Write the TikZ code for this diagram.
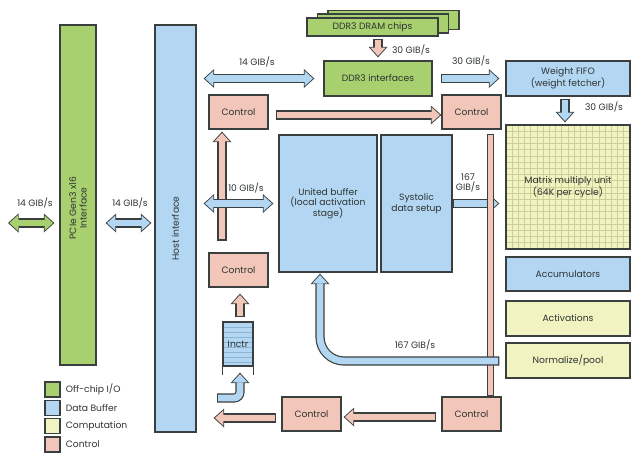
\documentclass[tikz,border=0pt]{standalone}
\usepackage{fontspec}
\setmainfont{Poppins}
\usetikzlibrary{arrows.meta,positioning,calc}
\definecolor{ioFill}{HTML}{A8D06E}
\definecolor{bufFill}{HTML}{B3D7F2}
\definecolor{compFill}{HTML}{F1F3C0}
\definecolor{ctrlFill}{HTML}{F2C7B9}
\definecolor{edgeDraw}{HTML}{3A3F3F}
\definecolor{gridDraw}{HTML}{CDCE98}
\definecolor{stripeDraw}{HTML}{8DB3D3}
\definecolor{txt}{HTML}{2E3333}
\tikzset{
  font=\fontsize{9.2}{10.6}\selectfont,
  box/.style  ={draw=edgeDraw, line width=1.3pt, align=center, inner sep=0pt, text=txt},
  io/.style   ={box, fill=ioFill},
  buf/.style  ={box, fill=bufFill},
  comp/.style ={box, fill=compFill},
  ctrl/.style ={box, fill=ctrlFill, minimum width=59pt, minimum height=34pt},
  unit/.style ={minimum width=124pt, minimum height=35pt},
  rate/.style ={align=center, text=txt, inner sep=0pt},
  legtxt/.style={text=txt, inner sep=0pt, anchor=west},
  outerTip/.tip={Triangle[width=19pt,length=10.5pt,line width=0pt]},
  innerTip/.tip={Triangle[width=15.4pt,length=8.4pt,line width=0pt]},
  fat/.style  ={line width=6.8pt, draw=#1, shorten >=1.4pt, shorten <=1.2pt, -innerTip,
                preaction={draw=edgeDraw, line width=9.2pt, shorten >=0pt, shorten <=0pt, -outerTip}},
  fatboth/.style={line width=6.8pt, draw=#1, shorten >=1.4pt, shorten <=1.4pt, innerTip-innerTip,
                preaction={draw=edgeDraw, line width=9.2pt, shorten >=0pt, shorten <=0pt, outerTip-outerTip}},
  fatbar/.style={line width=4.8pt, draw=#1, shorten >=1.2pt, shorten <=1.2pt,
                preaction={draw=edgeDraw, line width=7.2pt, shorten >=0pt, shorten <=0pt}},
}

\begin{document}
\begin{tikzpicture}[x=1pt, y=-1pt]
  \useasboundingbox (0,0) rectangle (640,458);

  % off-chip side
  \node[io,  minimum width=36pt, minimum height=340pt] (pcie) at (78,195) {};
  \node[rate, rotate=90] (pcieTxt) at (78,208) {PCIe Gen3 x16\\Interface};
  \node[buf, minimum width=41pt, minimum height=407pt,
        label={[rate, rotate=90]center:Host interface}] (host) at (175.5,228.5) {};

  % memory path
  \node[io, minimum width=131pt, minimum height=19pt] (chipC) at (393.5,20) {};
  \node[io, minimum width=131pt, minimum height=19pt] (chipB) at (383,23.5) {};
  \node[io, minimum width=131pt, minimum height=18pt] (chipA) at (372.5,27) {DDR3 DRAM chips};
  \node[io, minimum width=108pt, minimum height=35pt] (ddrIf) at (378,78.5) {DDR3 interfaces};
  \node[buf, unit] (fifo) at (568,78.5) {Weight FIFO\\(weight fetcher)};

  % control blocks
  \node[ctrl] (ctrlTop) at (238.5,112) {Control};
  \node[ctrl] (ctrlRt)  at (471.5,112) {Control};
  \node[ctrl] (ctrlMid) at (238.5,270) {Control};
  \node[ctrl] (ctrlBot) at (471.5,414) {Control};
  \node[ctrl] (ctrlLow) at (311.5,414) {Control};

  % data path
  \node[buf, minimum width=98pt, minimum height=137pt] (ub) at (328,203.5)
    {United buffer\\(local activation\\stage)};
  \node[buf, minimum width=71pt, minimum height=137pt] (sysSetup) at (416.5,203.5)
    {Systolic\\data setup};
  \node[comp, minimum width=124pt, minimum height=124pt,
        path picture={
          \foreach \k in {1,...,19} {
            \draw[gridDraw, line width=0.7pt] ($(path picture bounding box.north west)+(\k*6.2,0)$) -- ++(0,130);
            \draw[gridDraw, line width=0.7pt] ($(path picture bounding box.north west)+(0,\k*6.2)$) -- ++(130,0);
          }}] (mmu) at (568,187) {Matrix multiply unit\\(64K per cycle)};
  \node[buf,  unit, minimum height=34pt] (acc)  at (568,274)   {Accumulators};
  \node[comp, unit] (actv) at (568,318.5) {Activations};
  \node[comp, unit] (norm) at (568,360.5) {Normalize/pool};

  % instruction buffer
  \node[buf, minimum width=30pt, minimum height=44pt,
        path picture={
          \foreach \k in {1,...,8}
            \draw[stripeDraw, line width=0.5pt] ($(path picture bounding box.north west)+(0,\k*5)$) -- ++(40,0);
        }] (inctr) at (238,344) {Inctr};
  \draw[edgeDraw, line width=1.3pt] (inctr.south west) -- ++(0,8);
  \draw[edgeDraw, line width=1.3pt] (inctr.south east) -- ++(0,8);

  % arrows
  \coordinate (extL) at (8,223);
  \coordinate (feed) at (217,398);
  \draw[fatboth=ioFill]  (extL) -- ($(extL -| pcie.west)+(-5,0)$);
  \draw[fatboth=bufFill] ($(pcie.east |- extL)+(9,0)$) -- ($(host.west |- extL)+(-3,0)$);
  \draw[fatboth=bufFill] ($(host.east |- ddrIf.west)+(7,0)$) -- ($(ddrIf.west)+(-9,0)$);
  \draw[fat=ctrlFill] ($(ctrlTop.south)+(-16.5,111)$) -- ($(ctrlTop.south)+(-16.5,2)$);
  \draw[fatboth=bufFill] ($(host.east |- ub.west)+(7,0)$) -- ($(ub.west)+(-5,0)$);
  \draw[fat=ctrlFill] ($(ctrlTop.east)+(7,3)$) -- ($(ctrlRt.west)+(0,3)$);
  \draw[fat=ctrlFill] ($(ddrIf.north |- chipA.south)+(0,2)$) -- ($(ddrIf.north)+(0,-3)$);
  \draw[fat=bufFill] ($(ddrIf.east)+(8,0)$) -- ($(fifo.west)+(-6,0)$);
  \draw[fat=bufFill] ($(fifo.south)+(-3,2)$) -- ($(mmu.north)+(-3,-2)$);
  \draw[fat=bufFill] (sysSetup.east) -- ($(sysSetup.east -| mmu.west)+(-6,0)$);
  \draw[fatbar=ctrlFill] ($(ctrlRt.south east)+(-11,4)$) -- ($(ctrlBot.north east)+(-11,0)$);
  \draw[fat=bufFill, rounded corners=24pt] ($(norm.west)+(-6,0.5)$) -| ($(ub.south)+(-8,1)$);
  \draw[fat=ctrlFill] ($(ctrlBot.west)+(-5,3)$) -- ($(ctrlLow.east)+(2,3)$);
  \draw[fat=ctrlFill] ($(ctrlLow.west)+(-5,4)$) -- ($(host.east |- ctrlLow.west)+(17,4)$);
  \draw[fat=ctrlFill] ($(inctr.north)+(2,-4)$) -- ($(ctrlMid.south)+(1.5,6)$);
  \draw[fat=bufFill, rounded corners=6pt] (feed) -| ($(inctr.south)+(2,6)$);

  % rates
  \node[rate] (rIO)    at (35,203)  {14 GIB/s};
  \node[rate] (rPcie)  at (130,203) {14 GIB/s};
  \node[rate] (rHost)  at (257,62)  {14 GIB/s};
  \node[rate] (rTen)   at (246,188) {10 GIB/s};
  \node[rate] (rChips) at (411,50)  {30 GIB/s};
  \node[rate] (rDdr)   at (471,61)  {30 GIB/s};
  \node[rate] (rFifo)  at (604,107) {30 GIB/s};
  \node[rate] (rSys)   at (468,183) {167\\GIB/s};
  \node[rate] (rBack)  at (415,345) {167 GIB/s};

  % legend
  \node[io,   minimum size=15pt] (legIO)   at (52.5,389.5) {};
  \node[buf,  minimum size=15pt] (legBuf)  at (52.5,408)   {};
  \node[comp, minimum size=15pt] (legComp) at (52.5,426)   {};
  \node[ctrl, minimum width=15pt, minimum height=15pt] (legCtrl) at (52.5,444.5) {};
  \node[legtxt, right=5pt of legIO]   {Off-chip I/O};
  \node[legtxt, right=5pt of legBuf]  {Data Buffer};
  \node[legtxt, right=5pt of legComp] {Computation};
  \node[legtxt, right=5pt of legCtrl] {Control};
\end{tikzpicture}
\end{document}
